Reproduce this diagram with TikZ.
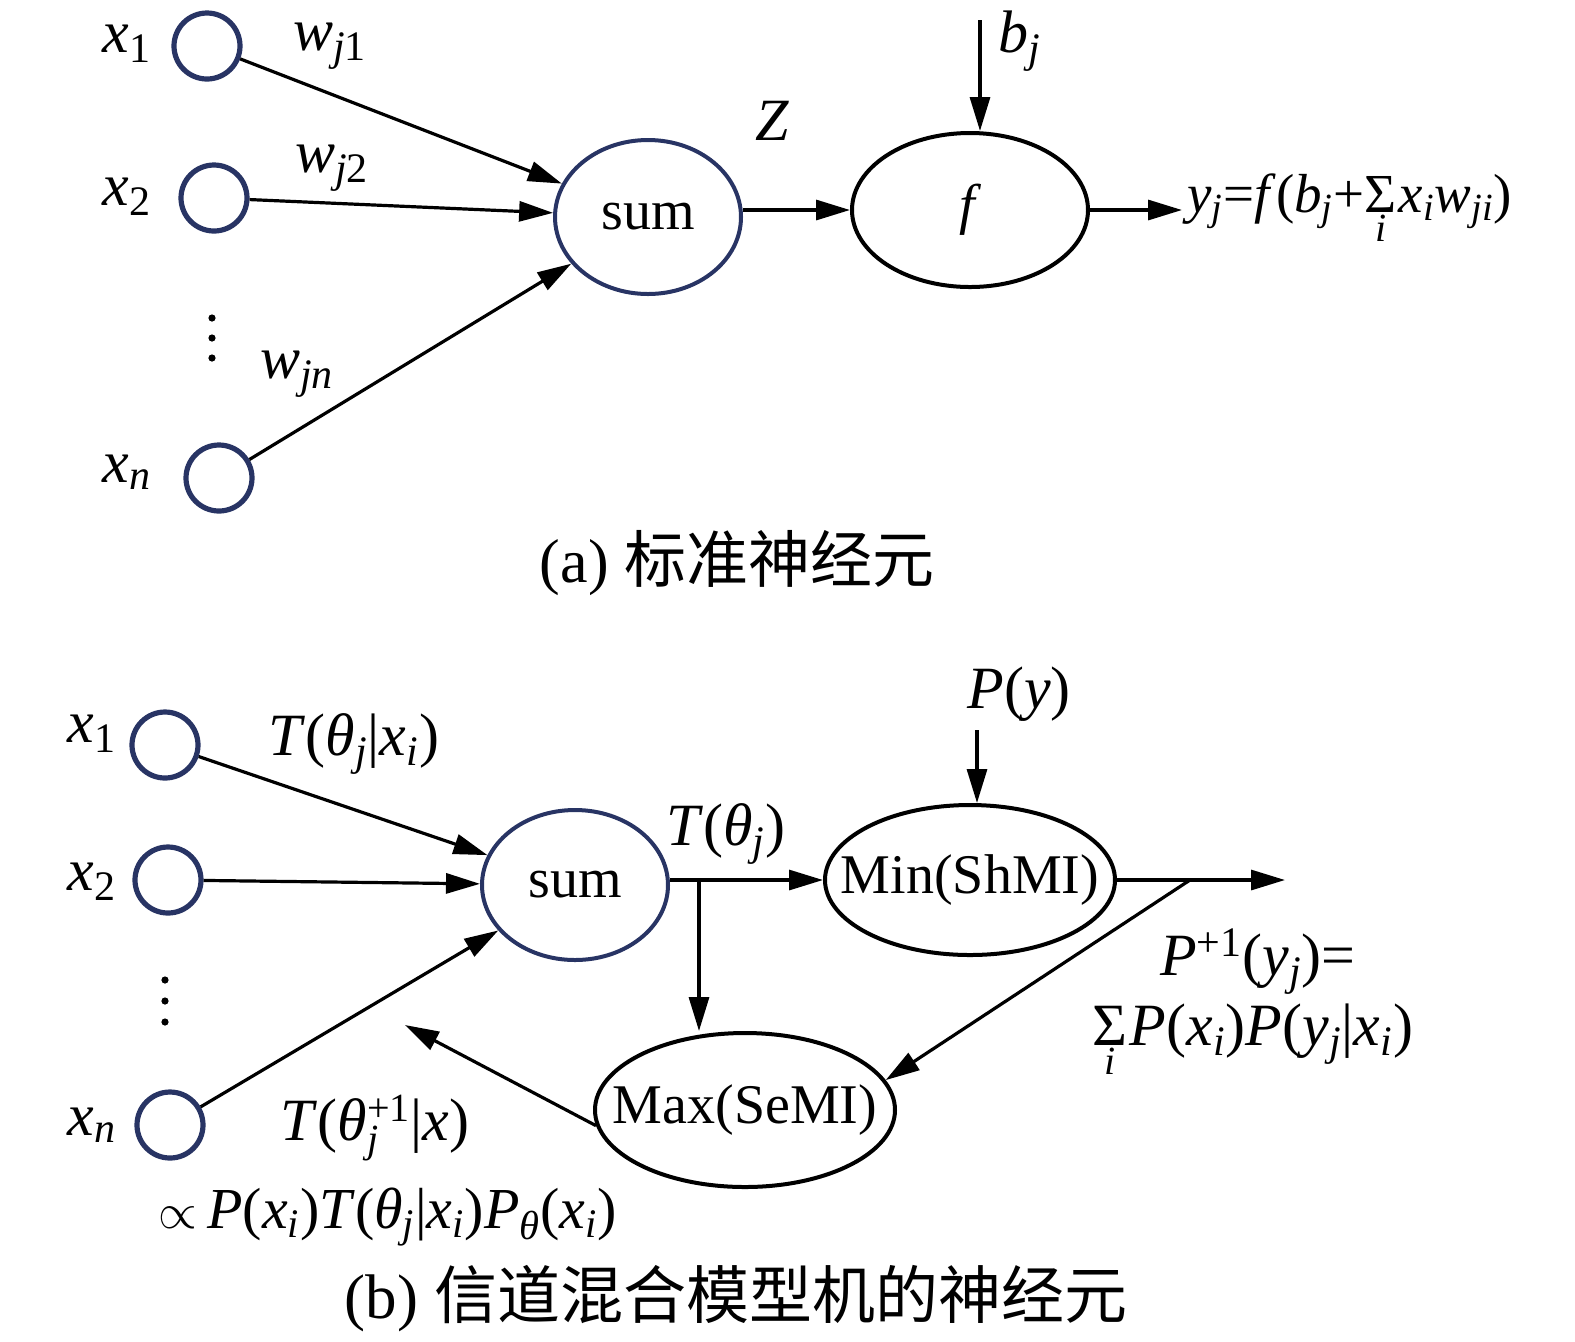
\documentclass[tikz,border=0pt]{standalone}
\usepackage{fontspec}
\setmainfont{Liberation Serif}[ItalicFont={Liberation Serif Italic}]
\newfontfamily\cjk{Noto Sans CJK SC}
\usetikzlibrary{shapes.geometric,arrows.meta,calc}
\definecolor{navy}{RGB}{40,52,100}
\newcommand\mi[1]{\textit{#1}}
\newcommand\sbi[1]{\textsubscript{\textit{#1}}}
\newcommand\sbr[1]{\textsubscript{#1}}
\newcommand\spr[1]{\textsuperscript{#1}}
\newcommand\sbfont{\fontsize{20}{20}\selectfont}
\newcommand\sumi{\ensuremath{\mathop{\hbox{Σ}}\limits_{\hbox{\sbfont\itshape i}}}\kern1pt}
\newcommand\subsup[2]{\ensuremath{{}_{\hbox{\sbfont\itshape #1}}^{\hbox{\sbfont #2}}}}
\begin{document}
\begin{tikzpicture}[x=0.5pt,y=-0.5pt,
  inp/.style={circle,draw=navy,line width=2.6pt,minimum size=33pt,inner sep=0pt},
  sumnode/.style={ellipse,draw=navy,line width=2pt,inner sep=0pt,font=\fontsize{28}{32}\selectfont},
  proc/.style={ellipse,draw=black,line width=2pt,inner sep=0pt,font=\fontsize{28}{32}\selectfont},
  arr/.style={line width=1.6pt,-{Triangle[length=17pt,width=10pt]}},
  lbl/.style={inner sep=0pt,anchor=base,font=\fontsize{30}{36}\selectfont},
  captext/.style={inner sep=0pt,anchor=base}]
\useasboundingbox (0,0) rectangle (1575,1341);

% ---------- (a) ----------
\node[inp] (a1) at (207,46) {};
\node[inp] (a2) at (214,198) {};
\node[inp] (an) at (219,478) {};
\node[lbl] (la1) at (127,52) {\mi{x}\sbr{1}};
\node[lbl] (la2) at (127,205) {\mi{x}\sbr{2}};
\node[lbl] (lan) at (127,482) {\mi{x}\sbi{n}};
\foreach \yy in {318,338,358} \fill (212,\yy) circle (1.8pt);
\node[lbl] (w1) at (330,50) {\mi{w}\sbi{j}\sbr{\hspace{-0.5pt}1}};
\node[lbl] (w2) at (332,172) {\mi{w}\sbi{j}\sbr{\hspace{-0.5pt}2}};
\node[lbl] (wn) at (297,378) {\mi{w}\sbi{jn}};
\node[sumnode,minimum width=93pt,minimum height=77pt] (asum) at (648,217) {sum};
\node[proc,minimum width=118pt,minimum height=77pt] (f) at (970,210) {\mi{f}};
\node[lbl] (Z) at (772,140) {\mi{Z}};
\node[lbl] (bjl) at (1020,52) {\mi{b}\sbi{j}};
\coordinate (bj) at (980,20);
\coordinate (yo) at (1182,210);
\node[lbl,anchor=base west,font=\fontsize{27.5}{33}\selectfont] (fy) at (1187,212) {\mi{y}\sbi{j}=\mi{f}(\mi{b}\sbi{j}+\sumi\mi{x}\sbi{i}\mi{w}\sbi{ji})};
\draw[arr] (a1) -- (asum);
\draw[arr] (a2) -- (asum);
\draw[arr] (an) -- (asum);
\draw[arr] (f.west -| asum.east) -- (f.west);
\draw[arr] (bj) -- (bj |- f.north);
\draw[arr] (f.east) -- (yo);
\node[captext,font=\fontsize{31}{36}\selectfont] (capa) at (737,582) {(a) {\cjk 标准神经元}};

% ---------- (b) ----------
\node[inp] (b1) at (165,745) {};
\node[inp] (b2) at (168,880) {};
\node[inp] (bn) at (170,1125) {};
\node[lbl] (lb1) at (92,742) {\mi{x}\sbr{1}};
\node[lbl] (lb2) at (92,890) {\mi{x}\sbr{2}};
\node[lbl] (lbn) at (92,1135) {\mi{x}\sbi{n}};
\foreach \yy in {980,1001,1022} \fill (165,\yy) circle (1.8pt);
\node[lbl] (t1) at (354,755) {\mi{T}(\mi{θ}\sbi{j}|\mi{x}\sbi{i})};
\node[sumnode,minimum width=93pt,minimum height=75pt] (bsum) at (575,885) {sum};
\node[proc,minimum width=145pt,minimum height=75pt,inner xsep=-15pt] (min) at (970,880) {Min(ShMI)};
\node[proc,minimum width=150pt,minimum height=77pt,inner xsep=-15pt] (max) at (745,1110) {Max(SeMI)};
\node[lbl] (pyl) at (1019,708) {\mi{P}(\mi{y})};
\node[lbl] (tj) at (726,845) {\mi{T}(\mi{θ}\sbi{j})};
\node[lbl] (pp1) at (1258,975) {\mi{P}\spr{+1}(\mi{y}\sbi{j})=};
\node[lbl] (pp2) at (1253,1045) {\sumi\mi{P}(\mi{x}\sbi{i})\mi{P}(\mi{y}\sbi{j}|\mi{x}\sbi{i})};
\node[lbl] (tn) at (375,1140) {\mi{T}(\mi{θ}\subsup{j}{+1}|\mi{x})};
\node[lbl,font=\fontsize{29}{34}\selectfont] (prop) at (388,1228) {$\propto$\,\mi{P}(\mi{x}\sbi{i})\mi{T}(\mi{θ}\sbi{j}|\mi{x}\sbi{i})\mi{P}\sbi{θ}(\mi{x}\sbi{i})};
\coordinate (py) at (977,730);
\coordinate (out) at (1285,880);
\coordinate (split) at (1190,880);
\coordinate (fb) at (405,1025);
\coordinate (br) at ($(min.west -| bsum.east)+(29,0)$);
\draw[arr] (b1) -- (bsum);
\draw[arr] (b2) -- (bsum);
\draw[arr] (bn) -- (bsum);
\draw[arr] (min.west -| bsum.east) -- (min.west);
\draw[arr] (br) -- (br |- max.north);
\draw[arr] (py) -- (py |- min.north);
\draw[arr] (min.east) -- (out);
\draw[arr] (split) -- (max.12);
\draw[arr] (max.186) -- (fb);
\node[captext,font=\fontsize{31.5}{38}\selectfont] (capb) at (736,1318) {(b) {\cjk 信道混合模型机的神经元}};
\end{tikzpicture}
\end{document}
